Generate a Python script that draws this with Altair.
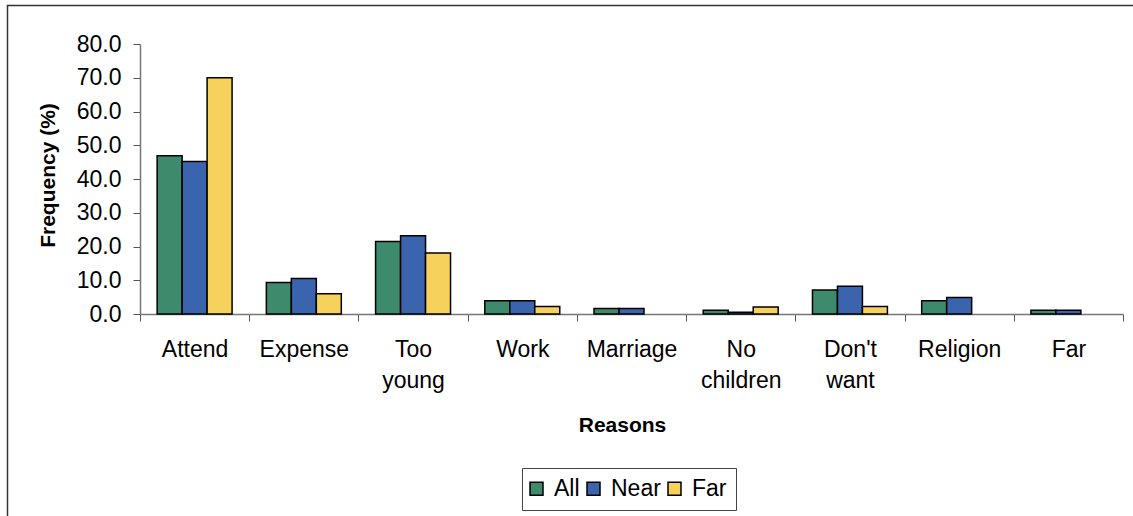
import altair as alt
import pandas as pd

# Reasons for not sending children to school, by distance group
reasons = ["Attend", "Expense", "Too young", "Work", "Marriage",
           "No children", "Don't want", "Religion", "Far"]
groups = ["All", "Near", "Far"]
all_vals = [46.9, 9.3, 21.5, 3.9, 1.6, 1.1, 7.1, 3.9, 1.1]
near_vals = [45.2, 10.5, 23.2, 3.9, 1.6, 0.5, 8.2, 4.9, 1.1]
far_vals = [70.0, 6.0, 18.1, 2.2, None, 2.1, 2.2, None, None]
colors = ["#3d8b6c", "#3a64ae", "#f6d25c"]
y_ticks = [0, 10, 20, 30, 40, 50, 60, 70, 80]

rows = []
for g, vals in zip(groups, [all_vals, near_vals, far_vals]):
    for r, v in zip(reasons, vals):
        if v is not None:
            rows.append({"Reason": r, "Group": g, "Value": v})
df = pd.DataFrame(rows)

FONT = "Liberation Sans"

bars = alt.Chart(df).mark_bar(stroke="black", strokeWidth=1.5).encode(
    x=alt.X(
        "Reason:N",
        sort=reasons,
        scale=alt.Scale(paddingInner=0, paddingOuter=0),
        axis=alt.Axis(
            title="Reasons",
            labelExpr="split(datum.label, ' ')",
            labelAngle=0,
            labelFont=FONT,
            labelFontSize=23,
            labelColor="black",
            labelLineHeight=31,
            labelPadding=17,
            tickBand="extent",
            tickSize=7,
            tickColor="#555555",
            domainColor="#777777",
            domainWidth=1.5,
            titleFont=FONT,
            titleFontSize=21,
            titleFontWeight="bold",
            titleColor="black",
            titleX=482,
            titleY=117,
            titleBaseline="alphabetic",
        ),
    ),
    xOffset=alt.XOffset(
        "Group:N",
        sort=groups,
        scale=alt.Scale(domain=groups, paddingInner=0, paddingOuter=0.686),
    ),
    y=alt.Y(
        "Value:Q",
        scale=alt.Scale(domain=[0, 80], nice=False),
        axis=alt.Axis(
            title="Frequency (%)",
            values=y_ticks,
            format=".1f",
            grid=False,
            labelFont=FONT,
            labelFontSize=23,
            labelColor="black",
            labelPadding=12,
            tickSize=7,
            tickColor="#555555",
            domainColor="#777777",
            domainWidth=1.5,
            titleFont=FONT,
            titleFontSize=21,
            titleFontWeight="bold",
            titleColor="black",
            titleAngle=-90,
            titleX=-86,
            titleY=131,
            titleAlign="center",
            titleBaseline="alphabetic",
        ),
    ),
    color=alt.Color(
        "Group:N",
        sort=groups,
        scale=alt.Scale(domain=groups, range=colors),
        legend=alt.Legend(
            title=None,
            orient="none",
            direction="horizontal",
            legendX=382,
            legendY=424,
            labelFont=FONT,
            labelFontSize=23,
            labelColor="black",
            labelOffset=6,
            symbolOffset=-6,
            symbolType="square",
            symbolSize=169,
            symbolStrokeColor="black",
            symbolStrokeWidth=1.5,
            columnPadding=4,
            padding=9,
            strokeColor="#444444",
            fillColor="white",
        ),
    ),
)

# outer chart frame
frame = alt.Chart(pd.DataFrame({"k": [0]})).mark_rect(
    fill=None, stroke="#333333", strokeWidth=1.5
).encode(
    x=alt.value(-132.5),
    x2=alt.value(1100),
    y=alt.value(-38.5),
    y2=alt.value(600),
)

chart = alt.layer(frame, bars).properties(
    width=983,
    height=270,
    padding={"left": 140, "top": 44, "right": 10, "bottom": 202},
    autosize=alt.AutoSizeParams(type="none"),
    background="white",
).configure_view(stroke=None)

chart.save("out.html", embed_options={"renderer": "svg", "actions": False})
